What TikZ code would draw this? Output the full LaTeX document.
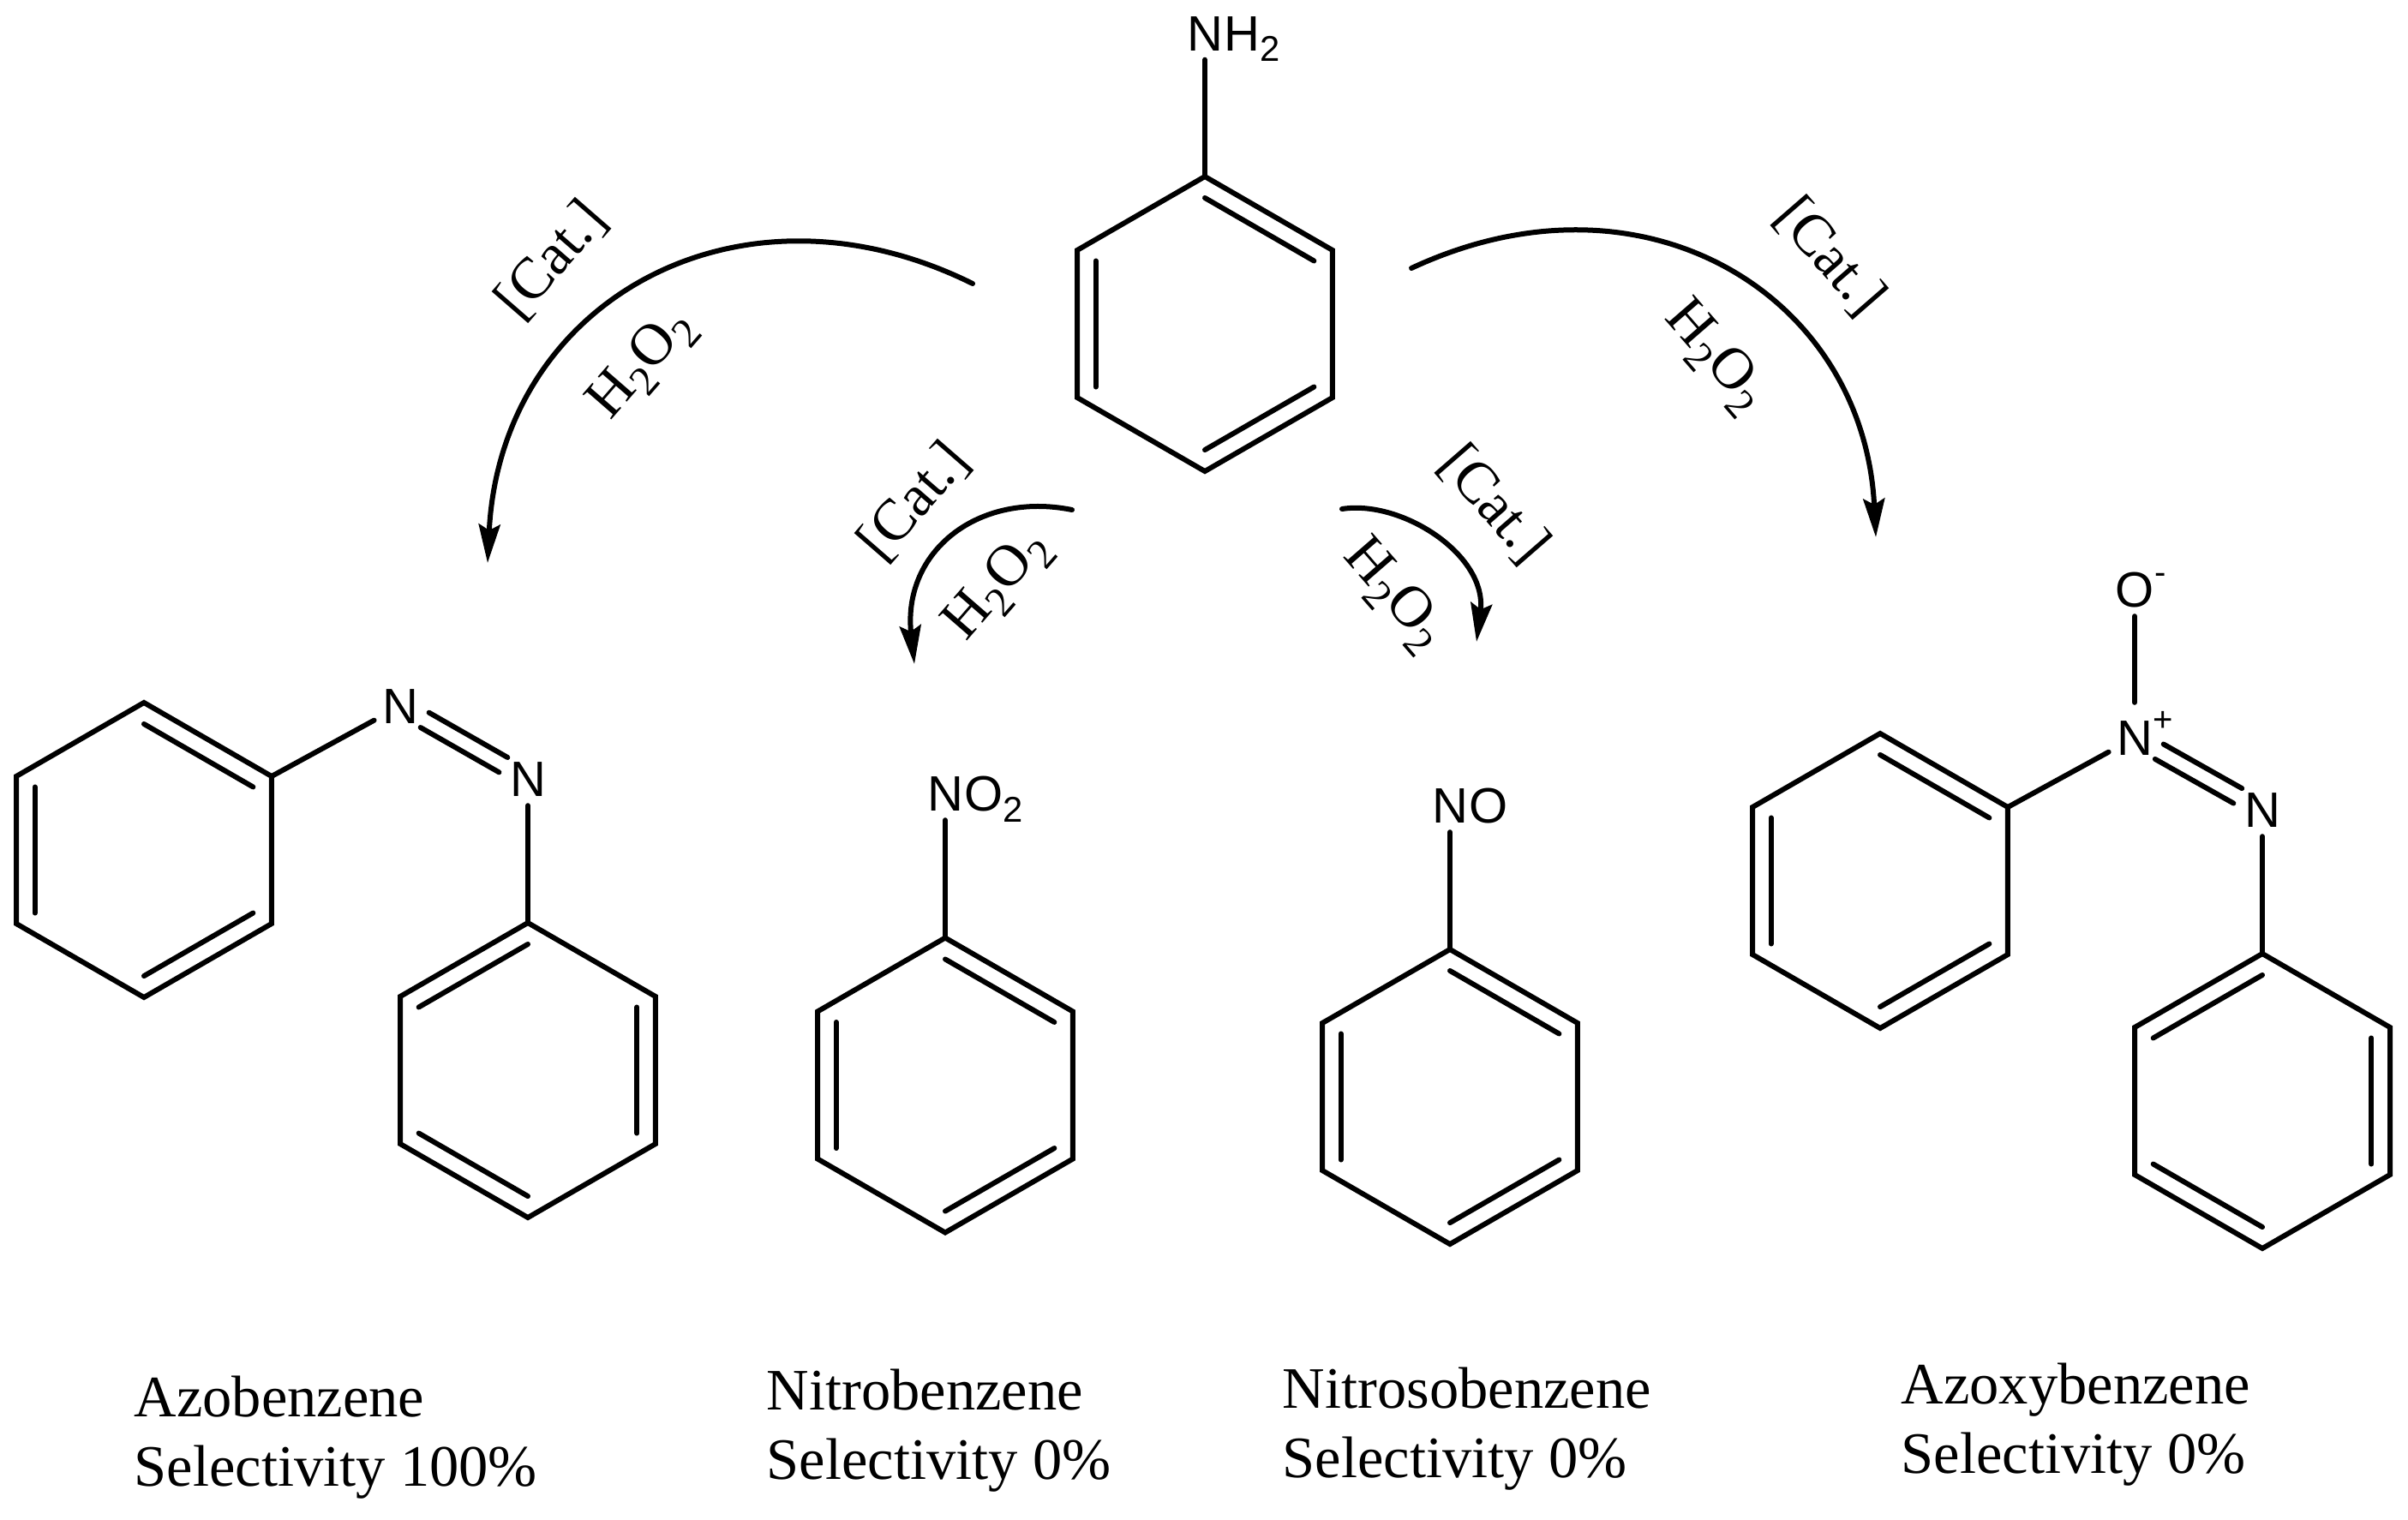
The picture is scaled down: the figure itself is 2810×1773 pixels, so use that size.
\documentclass[tikz,border=0pt]{standalone}
\usepackage{fontspec}
\setmainfont{Liberation Serif}
\newfontfamily\atomfont{Liberation Sans}
\usetikzlibrary{positioning,calc,arrows.meta}
\tikzset{
  bond/.style={line width=.6mm,line cap=round,line join=miter},
  tobond/.style={bond,shorten >=1mm},
  reaction/.style={line width=.6mm,line cap=round,-{Stealth[length=4.5mm,width=2.5mm,inset=.7mm]}},
  atom/.style={inner sep=0pt,text height=4.1mm,text depth=0pt,font=\atomfont\fontsize{16.5}{18}\selectfont},
  charge/.style={inner sep=0pt,font=\atomfont\fontsize{11.4}{12}\selectfont},
  reagent/.style={inner sep=0pt,font=\fontsize{19.4}{22}\selectfont},
  caption/.style={inner sep=0pt,anchor=north west,align=left,font=\fontsize{19.5}{23}\selectfont}
}
\newcommand{\lowtwo}{\raisebox{-.22em}{\scalebox{.72}{2}}}
\newcommand{\benzene}[4]{%
  \coordinate (#1) at (#2,#3);
  \foreach \k in {1,...,6} \coordinate (#1\k) at ($(#1)+({-150+60*\k}:172)$);
  \draw[bond] (#11) -- (#12) -- (#13) -- (#14) -- (#15) -- (#16) -- cycle;
  \foreach \a/\b in {#4} \draw[bond] ($(#1)!.855!(#1\a)$) -- ($(#1)!.855!(#1\b)$);
}
\newcommand{\dbond}[2]{%
  \draw[bond,shorten <=3.3mm,shorten >=3.3mm] ($(#1)!1mm!90:(#2)$) -- ($(#2)!1mm!-90:(#1)$);
  \draw[bond,shorten <=3.3mm,shorten >=3.3mm] ($(#1)!1mm!-90:(#2)$) -- ($(#2)!1mm!90:(#1)$);
}
\begin{document}
\begin{tikzpicture}[x=.1mm,y=-.1mm]
  \useasboundingbox (0,0) rectangle (2810,1773);

  \benzene{anil}{1406}{378}{1/2,3/4,5/6}
  \node[atom] (nh) at (1406,38.5) {N};
  \node[atom,right=0pt of nh] (nhh) {H\lowtwo};
  \draw[tobond] (anil1) -- (nh);

  \benzene{azoa}{168}{992}{1/2,3/4,5/6}
  \benzene{azob}{616}{1249}{6/1,2/3,4/5}
  \node[atom] (azn) at (467,824) {N};
  \node[atom] (azm) at (616,909) {N};
  \draw[tobond] (azoa2) -- (azn);
  \draw[tobond] (azob1) -- (azm);
  \dbond{azn}{azm}

  \benzene{nitro}{1103}{1266.5}{1/2,3/4,5/6}
  \node[atom] (nn) at (1103,926) {N};
  \node[atom,right=0pt of nn] (noo) {O\lowtwo};
  \draw[tobond] (nitro1) -- (nn);

  \benzene{nitroso}{1692}{1280}{1/2,3/4,5/6}
  \node[atom] (sn) at (1692,940) {N};
  \node[atom,right=0pt of sn] (so) {O};
  \draw[tobond] (nitroso1) -- (sn);

  \benzene{azxa}{2194}{1028}{1/2,3/4,5/6}
  \benzene{azxb}{2640}{1285}{6/1,2/3,4/5}
  \node[atom] (xn) at (2491,861) {N};
  \node[atom] (xm) at (2640,945) {N};
  \node[atom] (xo) at (2491,688) {O};
  \node[charge] (xplus) at (2524,842) {+};
  \node[charge] (xminus) at (2521,675) {-};
  \draw[tobond] (azxa2) -- (xn);
  \draw[tobond] (azxb1) -- (xm);
  \draw[bond,shorten <=2mm,shorten >=1mm] (xn) -- (xo);
  \dbond{xn}{xm}

  \coordinate (bigls) at (1135,331);
  \coordinate (bigle) at (569,657);
  \coordinate (bigrs) at (1647,313);
  \coordinate (bigre) at (2189,627);
  \coordinate (smalls) at (1251,595);
  \coordinate (smalle) at (1067,775);
  \coordinate (smars) at (1566,594);
  \coordinate (smare) at (1723,749);
  \draw[reaction] (bigls) .. controls (863,196) and (584,350) .. (bigle);
  \draw[reaction] (bigrs) .. controls (1919,186) and (2175,345) .. (bigre);
  \draw[reaction] (smalls) .. controls (1141,573) and (1053,644) .. (smalle);
  \draw[reaction] (smars) .. controls (1636,583) and (1736,648) .. (smare);

  \node[reagent,rotate=49] (catbl) at (644,304) {[Cat.]};
  \node[reagent,rotate=49] (perbl) at (750,426) {H\lowtwo O\lowtwo};
  \node[reagent,rotate=49] (catsl) at (1067,586) {[Cat.]};
  \node[reagent,rotate=49] (persl) at (1165,684) {H\lowtwo O\lowtwo};
  \node[reagent,rotate=-49] (catsr) at (1743,589) {[Cat.]};
  \node[reagent,rotate=-49] (persr) at (1626,695) {H\lowtwo O\lowtwo};
  \node[reagent,rotate=-49] (catbr) at (2135,300) {[Cat.]};
  \node[reagent,rotate=-49] (perbr) at (2001,417) {H\lowtwo O\lowtwo};

  \node[caption] (capazo) at (156,1605) {Azobenzene\\Selectivity 100\%};
  \node[caption] (capnitro) at (894,1597) {Nitrobenzene\\Selectivity 0\%};
  \node[caption] (capnitroso) at (1496,1595) {Nitrosobenzene\\Selectivity 0\%};
  \node[caption] (capazoxy) at (2218,1590) {Azoxybenzene\\Selectivity 0\%};
\end{tikzpicture}
\end{document}
